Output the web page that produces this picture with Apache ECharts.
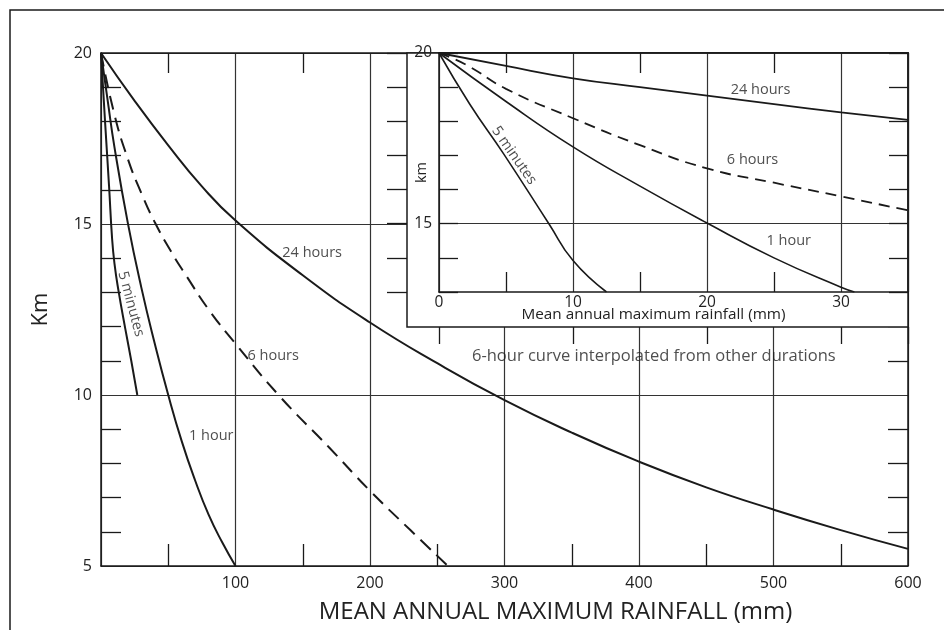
<!DOCTYPE html>
<html><head><meta charset="utf-8">
<script src="https://cdn.jsdelivr.net/npm/echarts@6/dist/echarts.min.js"></script>
<style>html,body{margin:0;padding:0;background:#fff}#c{width:944px;height:630px}</style>
</head><body><div id="c"></div>
<script>
// ---- main chart data: [rainfall mm, km] ----
const main5min = [[0,20],[3,18.0],[6,16.1],[8.2,14.6],[10,13.85],[13,13.05],[18,11.95],[22.5,11.0],[27,10]];
const main1h   = [[0,20],[5,18.6],[10,17.25],[20,15.02],[30,13.14],[40,11.5],[50,10],[60,8.65],[70,7.5],[80,6.5],[90,5.7],[100,5]];
const main6h   = [[0,20],[10,18.2],[20,16.9],[30,15.9],[40,15.05],[52,14.2],[64,13.45],[80,12.5],[100,11.5],[132,10],[170,8.45],[200,7.2],[230,6.05],[258,5]];
const main24h  = [[0,20],[25,18.6],[50,17.3],[75,16.1],[100,15.1],[150,13.5],[200,12.12],[250,10.93],[300,9.85],[350,8.9],[400,8.05],[450,7.3],[500,6.65],[550,6.05],[600,5.5]];
// ---- inset data ----
const inset5min = [[0,20],[2.3,18.5],[4.8,17.06],[8.2,15],[10,13.92],[12.5,13.0]];
const inset1h   = [[0,20],[5,18.58],[10,17.25],[15,16.1],[20,15.02],[25,14.0],[30,13.14],[31,13.0]];
const inset6h   = [[0,20],[2,19.66],[5,18.95],[10,18.09],[15,17.3],[20,16.62],[25,16.2],[30,15.8],[35,15.39]];
const inset24h  = [[0,20],[5,19.62],[10,19.26],[15,19.0],[20,18.75],[25,18.5],[30,18.26],[35,18.04]];
// ---- tick labels ----
const mainXTicks = [100,200,300,400,500,600];
const mainXLabels = ['100','200','300','400','500','600'];
const mainYTicks = [5,10,15,20];
const mainYLabels = ['5','10','15','20'];
const insetXTicks = [0,10,20,30];
const insetXLabels = ['0','10','20','30'];
const insetYTicks = [15,20];
const insetYLabels = ['15','20'];
// ---- annotations ----
const mainNoteText = ['24 hours','6 hours','1 hour','5 minutes','6-hour curve interpolated from other durations'];
const mainNoteX    = [157,128,82,22.3,411];
const mainNoteY    = [14.15,11.14,8.8,12.66,11.14];
const mainNoteRot  = [0,0,0,-75,0];
const mainNoteSize = [14.5,14.5,14.5,14.5,16.5];
const insetNoteText = ['24 hours','6 hours','1 hour','5 minutes'];
const insetNoteX    = [24,23.4,26.1,5.6];
const insetNoteY    = [18.92,16.87,14.5,17.0];
const insetNoteRot  = [0,0,0,-55];
const insetNoteSize = [14.5,14.5,14.5,14.5];

const FONT = "'Open Sans', Lato, sans-serif";
const INK = '#1a1a1a';
const GRIDC = '#333';
const TXT = '#222';
const CLEAR = 'rgba(0,0,0,0)';

function lab(ticks, labels){ return v => { const i = ticks.indexOf(v); return i < 0 ? '' : labels[i]; }; }

const chart = echarts.init(document.getElementById('c'));
const axisLineS = {show:true, onZero:false, lineStyle:{color:INK, width:1.5}};
const noLine = {show:false, onZero:false};
const hidden = {show:false};

function notes(texts, xs, ys, rots, sizes, xi, yi){
  return {type:'scatter', xAxisIndex:xi, yAxisIndex:yi, symbolSize:1, silent:true, z:12,
    itemStyle:{color:CLEAR},
    label:{show:true, position:'inside', color:TXT, fontFamily:FONT},
    data: texts.map((t,i)=>({value:[xs[i],ys[i]], label:{formatter:t, rotate:rots[i], fontSize:sizes[i]}}))};
}
function line(data, xi, yi, w, dashed, z){
  return {type:'line', data, xAxisIndex:xi, yAxisIndex:yi, showSymbol:false, symbol:'none', smooth:0.5, z,
    lineStyle:{color:INK, width:w, type: dashed ? dashed : 'solid'}, silent:true, animation:false};
}

const option = {
  animation:false,
  backgroundColor:'#fff',
  grid:[
    {left:101, top:53, right:36, bottom:64},
    {left:439, top:53, right:36, height:239}
  ],
  xAxis:[
    {gridIndex:0, type:'value', min:0, max:600, interval:100, position:'bottom',
      axisLine:axisLineS, axisTick:{show:false, inside:true},
      minorTick:{show:true, splitNumber:2, length:22, lineStyle:{color:INK, width:1.3}},
      splitLine:{show:true, lineStyle:{color:GRIDC, width:1.2}},
      axisLabel:{formatter:lab(mainXTicks, mainXLabels), color:TXT, fontSize:16, fontFamily:FONT, margin:9},
      name:'MEAN ANNUAL MAXIMUM RAINFALL (mm)', nameLocation:'middle', nameGap:34, nameMoveOverlap:false,
      nameTextStyle:{fontSize:24, color:TXT, fontFamily:FONT, padding:[0,0,0,102]}},
    {gridIndex:0, type:'value', min:0, max:600, interval:100, position:'top',
      axisLine:axisLineS, axisTick:{show:false, inside:true},
      minorTick:{show:true, splitNumber:2, length:20, lineStyle:{color:INK, width:1.3}},
      splitLine:hidden, axisLabel:hidden},
    {gridIndex:1, type:'value', min:0, max:35, interval:10, position:'bottom', z:10,
      axisLine:axisLineS, axisTick:{show:false, inside:true},
      minorTick:{show:true, splitNumber:2, length:20, lineStyle:{color:INK, width:1.3}},
      splitLine:{show:true, lineStyle:{color:GRIDC, width:1.2}},
      axisLabel:{formatter:lab(insetXTicks, insetXLabels), color:TXT, fontSize:15.5, fontFamily:FONT, margin:3},
      name:'Mean annual maximum rainfall (mm)', nameLocation:'middle', nameGap:15, nameMoveOverlap:false,
      nameTextStyle:{fontSize:15.3, color:TXT, fontFamily:FONT, padding:[0,40,0,0]}},
    {gridIndex:1, type:'value', min:0, max:35, interval:10, position:'top', z:10,
      axisLine:axisLineS, axisTick:{show:false, inside:true},
      minorTick:{show:true, splitNumber:2, length:20, lineStyle:{color:INK, width:1.3}},
      splitLine:hidden, axisLabel:hidden},
    {gridIndex:1, type:'value', min:0, max:35, interval:10, position:'bottom', offset:35, z:10,
      axisLine:noLine, axisTick:{show:true, inside:false, length:17, lineStyle:{color:INK, width:1.3}},
      splitLine:hidden, axisLabel:hidden}
  ],
  yAxis:[
    {gridIndex:0, type:'value', min:5, max:20, interval:5, position:'left',
      axisLine:axisLineS, axisTick:{show:false, inside:true},
      minorTick:{show:true, splitNumber:5, length:20, lineStyle:{color:INK, width:1.3}},
      splitLine:{show:true, lineStyle:{color:GRIDC, width:1.2}},
      axisLabel:{formatter:lab(mainYTicks, mainYLabels), color:TXT, fontSize:16, fontFamily:FONT, margin:9},
      name:'Km', nameLocation:'middle', nameGap:49, nameMoveOverlap:false,
      nameTextStyle:{fontSize:22, color:TXT, fontFamily:FONT}},
    {gridIndex:0, type:'value', min:5, max:20, interval:5, position:'right',
      axisLine:axisLineS, axisTick:{show:false, inside:true},
      minorTick:{show:true, splitNumber:5, length:20, lineStyle:{color:INK, width:1.3}},
      splitLine:hidden, axisLabel:hidden},
    {gridIndex:1, type:'value', min:13, max:20, interval:1, position:'left', z:10,
      axisLine:axisLineS, axisTick:{show:true, inside:true, length:19, lineStyle:{color:INK, width:1.3}},
      splitLine:{show:true, lineStyle:{color:[CLEAR,CLEAR,GRIDC,CLEAR,CLEAR,CLEAR,CLEAR,CLEAR], width:1.2}},
      axisLabel:{formatter:lab(insetYTicks, insetYLabels), color:TXT, fontSize:15.5, fontFamily:FONT, margin:7},
      name:'km', nameLocation:'middle', nameGap:10, nameMoveOverlap:false,
      nameTextStyle:{fontSize:14.5, color:TXT, fontFamily:FONT}},
    {gridIndex:1, type:'value', min:13, max:20, interval:1, position:'right', z:10,
      axisLine:axisLineS, axisTick:{show:true, inside:true, length:19, lineStyle:{color:INK, width:1.3}},
      splitLine:hidden, axisLabel:hidden},
    {gridIndex:1, type:'value', min:13, max:20, interval:1, position:'left', offset:32, z:10,
      axisLine:noLine, axisTick:{show:true, inside:false, length:20, lineStyle:{color:INK, width:1.3}},
      splitLine:hidden, axisLabel:hidden}
  ],
  graphic:[
    {type:'rect', z:0, silent:true, shape:{x:10, y:10, width:1000, height:1000},
      style:{fill:'none', stroke:INK, lineWidth:1.5}},
    {type:'rect', z:5, silent:true, shape:{x:407, y:53, width:501, height:274},
      style:{fill:'#fff', stroke:INK, lineWidth:1.5}}
  ],
  series:[
    line(main5min,0,0,2,null,2),
    line(main1h,0,0,2,null,2),
    line(main6h,0,0,2,[14,8],2),
    line(main24h,0,0,2,null,2),
    line(inset5min,2,2,1.6,null,11),
    line(inset1h,2,2,1.6,null,11),
    line(inset6h,2,2,1.8,[11,7],11),
    line(inset24h,2,2,1.8,null,11),
    notes(mainNoteText, mainNoteX, mainNoteY, mainNoteRot, mainNoteSize, 0, 0),
    notes(insetNoteText, insetNoteX, insetNoteY, insetNoteRot, insetNoteSize, 2, 2)
  ]
};
chart.setOption(option);
</script></body></html>
